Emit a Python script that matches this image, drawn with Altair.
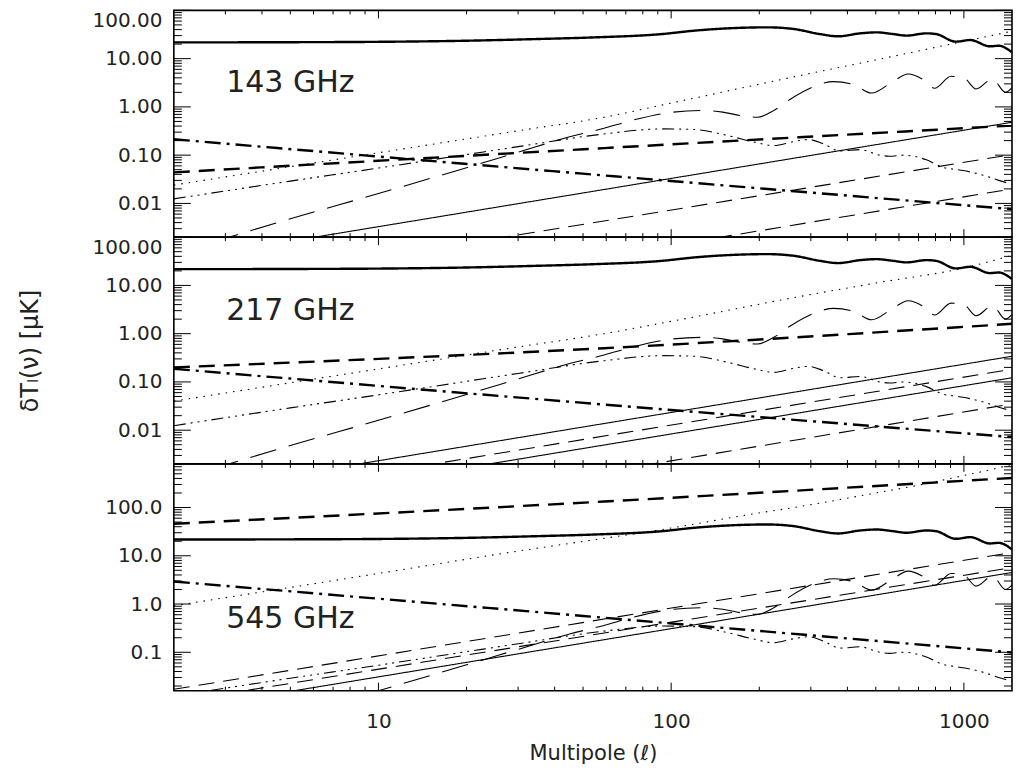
import altair as alt
import pandas as pd

FONT = "DejaVu Sans"
TXT = "#222222"
L_DOMAIN = [2, 1460]
Y_DOMAIN_LOW = [0.002, 100]
Y_DOMAIN_HIGH = [0.016, 800]
PANEL_W = 839
PANEL_H = 227

# ---------------- shared curves (same in all three panels) ----------------
cmb_l = [2, 5, 10, 20, 35, 55, 93, 120, 156, 213, 263, 322, 372, 442, 504, 573, 636, 745, 804, 938, 1053, 1226, 1316, 1460]
cmb_v = [21.7, 21.9, 22.3, 23.5, 25.5, 27.6, 32.3, 38.0, 42.4, 44.5, 41.0, 32.3, 29.0, 33.4, 35.0, 32.3, 30.0, 33.4, 32.3, 22.5, 24.3, 18.0, 18.5, 13.5]

ee_l = [2, 3, 5, 10, 20, 30, 45, 59, 73, 100, 127, 150, 173, 197, 225, 256, 303, 359, 420, 484, 566, 645, 720, 794, 904, 1000, 1100, 1253, 1386, 1460]
ee_v = [0.0009, 0.0019, 0.0048, 0.016, 0.055, 0.115, 0.24, 0.36, 0.52, 0.77, 0.84, 0.78, 0.66, 0.61, 0.85, 1.46, 2.55, 3.34, 2.9, 1.94, 3.2, 4.8, 3.8, 2.43, 4.3, 4.0, 2.35, 3.8, 2.0, 2.5]

te_l = [2, 5, 10, 20, 30, 59, 93, 120, 156, 190, 225, 260, 295, 332, 378, 441, 517, 556, 621, 745, 848, 950, 1050, 1189, 1315, 1460]
te_v = [0.0124, 0.029, 0.054, 0.103, 0.15, 0.275, 0.35, 0.34, 0.255, 0.19, 0.158, 0.19, 0.21, 0.17, 0.122, 0.13, 0.10, 0.095, 0.10, 0.08, 0.056, 0.05, 0.045, 0.037, 0.03, 0.025]

# ---------------- frequency dependent curves ----------------
noise_143_l = [2, 10, 30, 59, 100, 263, 500, 1000, 1460]
noise_143 = [0.024, 0.112, 0.32, 0.61, 1.2, 4.2, 9.4, 22.8, 37.0]
noise_217_l = [2, 10, 30, 59, 100, 263, 500, 1000, 1460]
noise_217 = [0.040, 0.186, 0.53, 1.0, 1.8, 5.6, 11.2, 23.0, 42.0]
noise_545_l = [2, 10, 30, 59, 95, 203, 263, 500, 745, 1000, 1253, 1460]
noise_545 = [0.92, 4.3, 12.5, 23.0, 35.7, 78.5, 100.0, 200.0, 313.0, 460.0, 620.0, 780.0]

dust_l = [2, 59, 1460]
dust_143 = [0.044, 0.14, 0.41]
dust_217 = [0.20, 0.50, 1.6]
dust_545 = [46.0, 133.0, 410.0]

synch_l = [2, 59, 1460]
synch_143 = [0.213, 0.038, 0.0076]
synch_217 = [0.187, 0.034, 0.0072]
synch_545 = [2.92, 0.52, 0.099]

edge_l = [2, 1460]
thin_solid = {
    "143 GHz": [[0.00066, 0.48]],
    "217 GHz": [[0.000466, 0.34], [0.000167, 0.122]],
    "545 GHz": [[0.0062, 4.5]],
}
thin_dashed = {
    "143 GHz": [[0.000153, 0.103], [0.0000263, 0.020]],
    "217 GHz": [[0.000262, 0.183], [0.000044, 0.035]],
    "545 GHz": [[0.0171, 11.7], [0.0093, 5.7]],
}

panels = ["143 GHz", "217 GHz", "545 GHz"]
noise = {"143 GHz": (noise_143_l, noise_143), "217 GHz": (noise_217_l, noise_217),
         "545 GHz": (noise_545_l, noise_545)}
dust = dict(zip(panels, [dust_143, dust_217, dust_545]))
synch = dict(zip(panels, [synch_143, synch_217, synch_545]))

# label anchors (data coordinates)
label_l = [3.02, 3.02, 3.02]
label_v = [2.05, 1.95, 0.315]

# ticks
y_major_low = [0.01, 0.1, 1, 10, 100]
y_major_high = [0.1, 1, 10, 100]
y_minor_low = [0.002, 0.003, 0.004, 0.005, 0.006, 0.007, 0.008, 0.009,
               0.02, 0.03, 0.04, 0.05, 0.06, 0.07, 0.08, 0.09,
               0.2, 0.3, 0.4, 0.5, 0.6, 0.7, 0.8, 0.9,
               2, 3, 4, 5, 6, 7, 8, 9, 20, 30, 40, 50, 60, 70, 80, 90]
y_minor_high = [0.02, 0.03, 0.04, 0.05, 0.06, 0.07, 0.08, 0.09,
                0.2, 0.3, 0.4, 0.5, 0.6, 0.7, 0.8, 0.9,
                2, 3, 4, 5, 6, 7, 8, 9, 20, 30, 40, 50, 60, 70, 80, 90,
                200, 300, 400, 500, 600, 700, 800]
x_major = [10, 100, 1000]
x_minor = [3, 4, 5, 6, 7, 8, 9, 20, 30, 40, 50, 60, 70, 80, 90,
           200, 300, 400, 500, 600, 700, 800, 900]

# tick lengths (style)
Y_MAJ_LEN, Y_MIN_LEN, X_MAJ_LEN, X_MIN_LEN = 17, 8, 8, 4

DASH_NAMES = ["solid", "dashed", "dashdot", "longdash", "dash3dot", "dotted"]
DASH_PATTERNS = [[1, 0], [16, 9], [16, 6, 3, 6], [27, 13], [12, 5, 2, 5, 2, 5, 2, 5], [1.5, 6]]

rows = []


def add(panel, series, style, weight, ls, vs):
    for l, v in zip(ls, vs):
        rows.append(dict(panel=panel, series=series, style=style, weight=weight, l=l, v=v))


for p in panels:
    add(p, "cmb", "solid", "thick", cmb_l, cmb_v)
    add(p, "dust", "dashed", "thick", dust_l, dust[p])
    add(p, "synch", "dashdot", "thick", synch_l, synch[p])
    add(p, "ee", "longdash", "thin", ee_l, ee_v)
    add(p, "te", "dash3dot", "thin", te_l, te_v)
    add(p, "noise", "dotted", "thin", noise[p][0], noise[p][1])
    for i, vs in enumerate(thin_solid[p]):
        add(p, f"solid{i}", "solid", "thin", edge_l, vs)
    for i, vs in enumerate(thin_dashed[p]):
        add(p, f"dashed{i}", "dashed", "thin", edge_l, vs)

df = pd.DataFrame(rows)


def panel_chart(idx):
    p = panels[idx]
    last = idx == 2
    ydom = Y_DOMAIN_HIGH if last else Y_DOMAIN_LOW
    ymaj = y_major_high if last else y_major_low
    ymin = y_minor_high if last else y_minor_low
    yfmt = ".1f" if last else ".2f"
    ytitle = "δTₗ(ν) [μK]" if idx == 1 else " "
    xs = alt.Scale(type="log", domain=L_DOMAIN, nice=False)
    ys = alt.Scale(type="log", domain=ydom, nice=False)
    dash = alt.StrokeDash("style:N", scale=alt.Scale(domain=DASH_NAMES, range=DASH_PATTERNS), legend=None)
    d = df[df.panel == p]

    yaxis = alt.Axis(values=ymaj, format=yfmt, ticks=False, tickSize=0, domain=False, grid=False,
                     labelFont=FONT, labelFontSize=20, labelColor=TXT, labelPadding=12,
                     labelFlush=True, title=ytitle, titleFont=FONT, titleFontSize=24,
                     titleFontWeight="normal", titleColor=TXT, titlePadding=23,
                     minExtent=108, maxExtent=108)
    if last:
        xaxis = alt.Axis(values=x_major, format="d", ticks=False, tickSize=0, domain=False, grid=False,
                         labelFont=FONT, labelFontSize=20, labelColor=TXT, labelPadding=21,
                         labelFlush=False, title="Multipole (ℓ)", titleFont=FONT, titleFontSize=21,
                         titleFontWeight="normal", titleColor=TXT, titlePadding=11, minExtent=0)
    else:
        xaxis = None

    def X(field):
        return alt.X(field, scale=xs, axis=xaxis)

    def Y(field):
        return alt.Y(field, scale=ys, axis=yaxis)

    layers = []
    for weight, sw in (("thick", 2.4), ("thin", 1.1)):
        layers.append(
            alt.Chart(d[d.weight == weight]).mark_line(
                clip=True, color="black", strokeWidth=sw, interpolate="monotone"
            ).encode(x=X("l:Q"), y=Y("v:Q"), strokeDash=dash, detail="series:N")
        )

    lab = pd.DataFrame({"l": [label_l[idx]], "v": [label_v[idx]], "label": [p]})
    layers.append(
        alt.Chart(lab).mark_text(
            align="left", baseline="alphabetic", font=FONT, fontSize=30, color=TXT
        ).encode(x=X("l:Q"), y=Y("v:Q"), text="label:N")
    )

    # inward tick marks on all four sides
    for vals, ln in ((ymaj, Y_MAJ_LEN), (ymin, Y_MIN_LEN)):
        base = alt.Chart(pd.DataFrame({"v": vals})).mark_rule(color="black", strokeWidth=1)
        layers.append(base.encode(y=Y("v:Q"), x=alt.value(0), x2=alt.value(ln)))
        layers.append(base.encode(y=Y("v:Q"), x=alt.value(PANEL_W), x2=alt.value(PANEL_W - ln)))
    for vals, ln in ((x_major, X_MAJ_LEN), (x_minor, X_MIN_LEN)):
        base = alt.Chart(pd.DataFrame({"l": vals})).mark_rule(color="black", strokeWidth=1)
        layers.append(base.encode(x=X("l:Q"), y=alt.value(PANEL_H), y2=alt.value(PANEL_H - ln)))
        layers.append(base.encode(x=X("l:Q"), y=alt.value(0), y2=alt.value(ln)))

    return alt.layer(*layers).properties(width=PANEL_W, height=PANEL_H)


chart = alt.vconcat(panel_chart(0), panel_chart(1), panel_chart(2), spacing=0, bounds="flush").properties(
    padding={"left": 10, "top": 0, "right": 0, "bottom": 0}
).configure_view(stroke="black", strokeWidth=1.6)

chart.save("out.html", embed_options={"renderer": "svg", "actions": False})
